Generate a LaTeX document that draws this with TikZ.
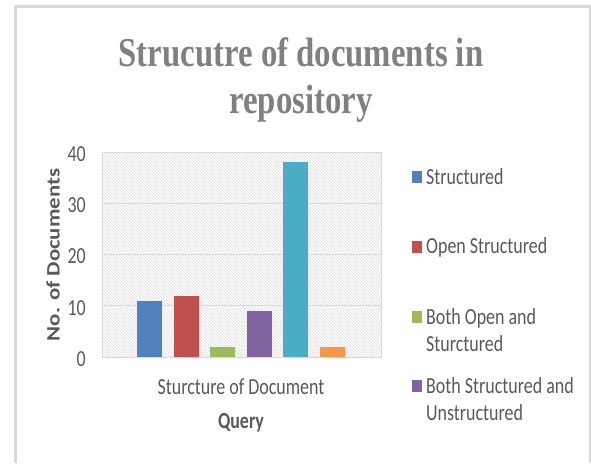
\documentclass[tikz,border=0pt]{standalone}
\usepackage{fontspec}
\setmainfont{Carlito}[FakeStretch=0.78]
\newfontfamily\titlefont{Liberation Serif}[FakeStretch=0.8]
\newfontfamily\axisfont{Carlito}[FakeStretch=1.2]
\usetikzlibrary{patterns,positioning}

\definecolor{txtgray}{HTML}{595959}
\definecolor{titlegray}{HTML}{808080}
\definecolor{gridgray}{HTML}{D9D9D9}
\definecolor{barblue}{HTML}{4F81BD}
\definecolor{barred}{HTML}{C0504D}
\definecolor{bargreen}{HTML}{9BBB59}
\definecolor{barpurple}{HTML}{8064A2}
\definecolor{barcyan}{HTML}{4BACC6}
\definecolor{barorange}{HTML}{F79646}

\begin{document}
\begin{tikzpicture}[
  x=1pt, y=-1pt,
  ticklbl/.style={font=\fontsize{23}{23}\selectfont, text=txtgray, anchor=east, inner sep=0pt},
  legkey/.style={minimum width=10pt, minimum height=12pt, inner sep=0pt},
  legtext/.style={font=\fontsize{23}{27}\selectfont, text=txtgray, anchor=west,
    align=left, inner sep=0pt},
  gridline/.style={draw=gridgray, line width=1pt}
]
  \useasboundingbox (0,0) rectangle (591,463);

  % chart frame
  \draw[gridgray, line width=3pt] (15.5,463) -- (15.5,6.5) -- (591,6.5);
  \draw[gridgray, line width=1.5pt] (590,6.5) -- (590,463);

  % title
  \node[font=\titlefont\bfseries\fontsize{41}{47}\selectfont, text=titlegray,
    align=center, anchor=north, inner sep=0pt] (title) at (301,37)
    {Strucutre of documents in\\repository};

  % plot area: hatched background and grid
  \fill[pattern=north west lines, pattern color=gridgray] (102,152) rectangle (381,357);
  \foreach \v in {0,10,...,40} {
    \draw[gridline] (102,{357-5.125*\v}) -- (381,{357-5.125*\v});
    \node[ticklbl] (tick\v) at (86,{359-5.125*\v}) {\v};
  }
  \draw[gridline] (102,152) rectangle (381,357);

  % bars
  \foreach \v/\c [count=\i] in {11/barblue,12/barred,2/bargreen,9/barpurple,38/barcyan,2/barorange} {
    \fill[\c] ({137+36.6*(\i-1)},357) rectangle ++(25,{-5.125*\v});
  }

  % axis titles
  \node[font=\axisfont\bfseries\fontsize{19}{19}\selectfont, text=txtgray,
    rotate=90, inner sep=0pt] (ytitle) at (53,255) {No. of Documents};
  \node[font=\fontsize{23}{23}\selectfont, text=txtgray, inner sep=0pt] (xcat) at (241,387)
    {Sturcture of Document};
  \node[font=\bfseries\fontsize{23}{23}\selectfont, text=txtgray, inner sep=0pt] (xtitle) at (241,423)
    {Query};

  % legend
  \node[legkey, fill=barblue] (key1) at (417,177) {};
  \node[legtext] (leg1) at (426,177) {Structured};
  \node[legkey, fill=barred] (key2) at (417,247) {};
  \node[legtext] (leg2) at (426,247) {Open Structured};
  \node[legkey, fill=bargreen] (key3) at (417,317) {};
  \node[legtext] (leg3) at (426,330) {Both Open and\\Sturctured};
  \node[legkey, fill=barpurple] (key4) at (417,386) {};
  \node[legtext] (leg4) at (426,399) {Both Structured and\\Unstructured};
\end{tikzpicture}
\end{document}
